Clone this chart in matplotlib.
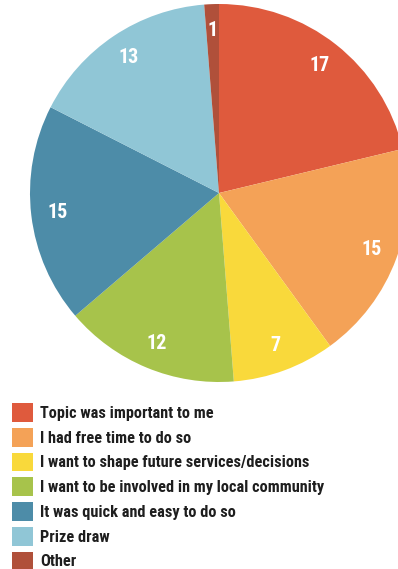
import matplotlib.pyplot as plt
from matplotlib import font_manager

# reasons for taking part
labels = ["Topic was important to me",
          "I had free time to do so",
          "I want to shape future services/decisions",
          "I want to be involved in my local community",
          "It was quick and easy to do so",
          "Prize draw",
          "Other"]
counts = [17, 15, 7, 12, 15, 13, 1]
colors = ["#DF5A3D", "#F4A257", "#F9D93B", "#A7C34B", "#4D8CA8", "#90C6D6", "#B0503A"]

names = {f.name for f in font_manager.fontManager.ttflist}
fam = [n for n in ["Roboto Condensed", "Barlow Condensed", "Archivo Narrow"] if n in names][:1] + ["DejaVu Sans"]
plt.rcParams['font.family'] = fam

fig = plt.figure(figsize=(3.98, 5.69), dpi=100)
# pie centre at (219, 193) px, radius 189 px
ax = fig.add_axes([30/398, (569-193-189)/569, 378/398, 378/569])
total = sum(counts)
wedges, _, nums = ax.pie(counts, colors=colors, startangle=90, counterclock=False,
                         radius=1, autopct=lambda p: "%d" % round(p*total/100),
                         pctdistance=0.86, wedgeprops=dict(linewidth=0))
for t in nums:
    t.set_color("white")
    t.set_fontsize(14.5)
    t.set_fontweight("bold")
ax.set_xlim(-1, 1)
ax.set_ylim(-1, 1)
ax.axis("off")

fig.legend(wedges, labels, loc="upper left", bbox_to_anchor=(12/398, (569-403)/569),
           frameon=False, prop=dict(weight="bold", size=11.7),
           handlelength=1.3, handleheight=1.4, labelspacing=0.37,
           handletextpad=0.45, borderpad=0, borderaxespad=0, labelcolor="#1E1E1E")

fig.savefig("out.png", dpi=100)
